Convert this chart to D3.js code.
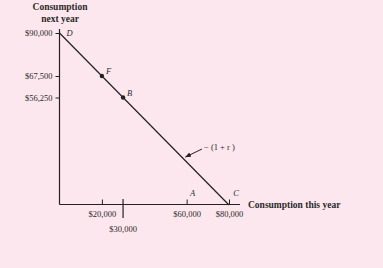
<!DOCTYPE html>
<html><head><meta charset="utf-8">
<script src="https://cdn.jsdelivr.net/npm/d3@7"></script>
<style>
html,body{margin:0;padding:0;background:#fde7ee;}
svg{display:block;}
text{font-family:"Liberation Serif","DejaVu Serif",serif;fill:#2a2a2a;}
</style></head>
<body><svg id="c" width="383" height="268"></svg>
<script>
// Data
const xTickValues = [20000, 60000, 80000];
const xTickLabels = ["$20,000", "$60,000", "$80,000"];
const xLongTick = [30000];
const xLongTickLabels = ["$30,000"];
const yTickValues = [90000, 67500, 56250];
const yTickLabels = ["$90,000", "$67,500", "$56,250"];
const budgetLine = [{x:0, y:90000}, {x:80000, y:0}];
const pointNames = ["F", "B"];
const pointX = [20000, 30000];
const pointY = [67500, 56250];
const endNames = ["D", "C"];
const markA = {name:"A", x:60000};
const slopeLabel = "− (1 + r )";

const svg = d3.select("#c");
const x = d3.scaleLinear().domain([0, 80000]).range([59.5, 229]);
const y = d3.scaleLinear().domain([0, 90000]).range([205, 33]);
const ink = "#222";

// axes lines
svg.append("line").attr("x1", x(0)).attr("x2", 240).attr("y1", 204.5).attr("y2", 204.5)
  .attr("stroke", ink).attr("stroke-width", 1.2);
svg.append("line").attr("x1", x(0)).attr("x2", x(0)).attr("y1", 29).attr("y2", 204.5)
  .attr("stroke", ink).attr("stroke-width", 1.2);

// y ticks
const yAxis = d3.axisLeft(y).tickValues(yTickValues).tickSize(4).tickPadding(3)
  .tickFormat((d,i)=>yTickLabels[i]);
const gy = svg.append("g").attr("transform", `translate(${x(0)},0)`).call(yAxis);
gy.select(".domain").remove();
gy.selectAll("line").attr("stroke", ink).attr("stroke-width", 1);
gy.selectAll("text").attr("font-family", "Liberation Serif").attr("font-size", 8.5).attr("fill", "#333");

// x ticks (upward)
const xAxis = d3.axisBottom(x).tickValues(xTickValues).tickSize(-5).tickPadding(5)
  .tickFormat((d,i)=>xTickLabels[i]);
const gx = svg.append("g").attr("transform", `translate(0,204.5)`).call(xAxis);
gx.select(".domain").remove();
gx.selectAll("line").attr("stroke", ink).attr("stroke-width", 1);
gx.selectAll("text").attr("font-family", "Liberation Serif").attr("font-size", 8.5).attr("fill", "#333")
  .attr("dy", "0.71em").attr("y", 6);

// long tick at 30000
const gl = svg.append("g");
gl.selectAll("line").data(xLongTick).join("line")
  .attr("x1", d=>x(d)).attr("x2", d=>x(d)).attr("y1", 199).attr("y2", 218)
  .attr("stroke", ink).attr("stroke-width", 1.2);
gl.selectAll("text").data(xLongTick).join("text")
  .attr("x", d=>x(d)).attr("y", 232).attr("text-anchor", "middle").attr("fill", "#333")
  .attr("font-size", 8.5).text((d,i)=>xLongTickLabels[i]);

// budget line
svg.append("path").datum(budgetLine)
  .attr("d", d3.line().x(d=>x(d.x)).y(d=>y(d.y)))
  .attr("stroke", ink).attr("stroke-width", 1.2).attr("fill", "none");

// points
svg.selectAll("circle.pt").data(pointX).join("circle").attr("class","pt")
  .attr("cx", d=>x(d)).attr("cy", (d,i)=>y(pointY[i])).attr("r", 2.2).attr("fill", ink);
svg.selectAll("text.pl").data(pointX).join("text").attr("class","pl")
  .attr("x", d=>x(d)+4).attr("y", (d,i)=>y(pointY[i])-2)
  .attr("font-size", 8.5).attr("font-style", "italic").text((d,i)=>pointNames[i]);

// end labels
svg.append("text").attr("x", x(0)+7).attr("y", y(90000)+3).attr("font-size", 8.5)
  .attr("font-style", "italic").text(endNames[0]);
svg.append("text").attr("x", x(80000)+7).attr("y", 196).attr("text-anchor", "middle").attr("font-size", 8.5)
  .attr("font-style", "italic").text(endNames[1]);
svg.append("text").attr("x", x(markA.x)+6).attr("y", 196).attr("text-anchor", "middle").attr("font-size", 8.5)
  .attr("font-style", "italic").text(markA.name);

// slope annotation with arrow
svg.append("defs").append("marker").attr("id","ah").attr("viewBox","0 0 10 10")
  .attr("refX", 9).attr("refY", 5).attr("markerWidth", 6).attr("markerHeight", 6)
  .attr("orient","auto").append("path").attr("d","M0,1L10,5L0,9Z").attr("fill", ink);
svg.append("line").attr("x1", 202).attr("y1", 149).attr("x2", 185.5).attr("y2", 157)
  .attr("stroke", ink).attr("stroke-width", 1).attr("marker-end", "url(#ah)");
svg.append("text").attr("x", 204).attr("y", 150).attr("font-size", 8.5).text(slopeLabel);

// axis titles
const yt = svg.append("text").attr("x", 60).attr("text-anchor","middle").attr("font-size", 9.5).attr("font-weight","bold");
yt.append("tspan").attr("x", 60).attr("y", 10).text("Consumption");
yt.append("tspan").attr("x", 60).attr("y", 22).text("next year");
svg.append("text").attr("x", 248).attr("y", 208).attr("font-size", 9.5).attr("font-weight","bold").text("Consumption this year");
</script></body></html>
